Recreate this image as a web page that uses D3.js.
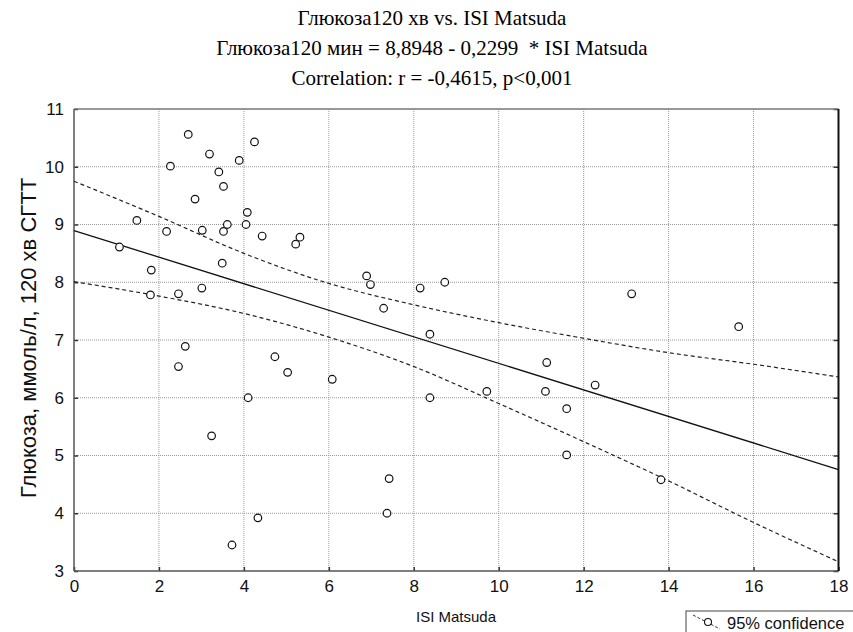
<!DOCTYPE html>
<html>
<head>
<meta charset="utf-8">
<script src="https://cdn.jsdelivr.net/npm/d3@7"></script>
<style>
  body { margin: 0; background: #fff; }
</style>
</head>
<body>
<svg id="chart" width="853" height="632"></svg>
<script>
// scatter data
var isi = [1.07, 1.48, 1.80, 1.82, 2.18, 2.27, 2.46, 2.46, 2.62, 2.69,
           2.85, 3.01, 3.02, 3.19, 3.24, 3.41, 3.49, 3.52, 3.52, 3.61,
           3.72, 3.89, 4.05, 4.08, 4.10, 4.25, 4.33, 4.43, 4.73, 5.03,
           5.22, 5.32, 6.08, 6.89, 6.98, 7.29, 7.37, 7.42, 8.15, 8.38,
           8.38, 8.73, 9.72, 11.10, 11.13, 11.60, 11.60, 12.27, 13.13, 13.82,
           15.65];
var glucose = [8.61, 9.07, 7.78, 8.21, 8.88, 10.01, 7.80, 6.54, 6.89, 10.56,
               9.44, 7.90, 8.90, 10.22, 5.34, 9.91, 8.33, 9.66, 8.88, 9.00,
               3.45, 10.11, 9.00, 9.21, 6.00, 10.43, 3.92, 8.80, 6.71, 6.44,
               8.66, 8.78, 6.32, 8.11, 7.96, 7.55, 4.00, 4.60, 7.90, 7.10,
               6.00, 8.00, 6.11, 6.11, 6.61, 5.81, 5.01, 6.22, 7.80, 4.58,
               7.23];

// regression y = a + b*x
var intercept = 8.8948;
var slope = -0.2299;

// 95% confidence band
var bandX     = [0, 2, 4, 6, 8, 10, 12, 14, 16, 18];
var bandUpper = [9.75, 9.14, 8.50, 7.98, 7.61, 7.30, 7.03, 6.78, 6.58, 6.36];
var bandLower = [8.01, 7.76, 7.46, 7.05, 6.54, 5.90, 5.24, 4.56, 3.84, 3.16];

var xTicks = [0, 2, 4, 6, 8, 10, 12, 14, 16, 18];
var yTicks = [3, 4, 5, 6, 7, 8, 9, 10, 11];

var titleLines = [
  "Глюкоза120 хв vs. ISI Matsuda",
  "Глюкоза120 мин = 8,8948 - 0,2299  * ISI Matsuda",
  "Correlation: r = -0,4615, p<0,001"
];
var xLabel = "ISI Matsuda";
var yLabel = "Глюкоза, ммоль/л, 120 хв СГТТ";
var legendText = "95% confidence";

var svg = d3.select('#chart');
var sans = "'Liberation Sans', Arial, sans-serif";
var serif = "'Liberation Serif', 'Times New Roman', serif";

var plot = {left: 74, right: 838.5, top: 109, bottom: 571};

var xScale = d3.scaleLinear().domain([0, 18]).range([plot.left, plot.right]);
var yScale = d3.scaleLinear().domain([3, 11]).range([plot.bottom, plot.top]);

// dotted grid
var grid = svg.append('g');
grid.selectAll('line.gx')
  .data(xTicks.slice(1, -1))
  .enter().append('line')
  .attr('x1', function(d){ return xScale(d) }).attr('x2', function(d){ return xScale(d) })
  .attr('y1', plot.top).attr('y2', plot.bottom)
  .attr('stroke', '#9a9a9a').attr('stroke-width', 1)
  .attr('stroke-dasharray', '1,1');
grid.selectAll('line.gy')
  .data(yTicks.slice(1, -1))
  .enter().append('line')
  .attr('y1', function(d){ return yScale(d) }).attr('y2', function(d){ return yScale(d) })
  .attr('x1', plot.left).attr('x2', plot.right)
  .attr('stroke', '#9a9a9a').attr('stroke-width', 1)
  .attr('stroke-dasharray', '1,1');

// axes
var xAxis = svg.append('g')
  .attr('transform', 'translate(0,' + plot.bottom + ')')
  .call(d3.axisBottom(xScale).tickValues(xTicks).tickSizeInner(-4).tickSizeOuter(0).tickPadding(9));
var yAxis = svg.append('g')
  .attr('transform', 'translate(' + plot.left + ',0)')
  .call(d3.axisLeft(yScale).tickValues(yTicks).tickSizeInner(-4).tickSizeOuter(0).tickPadding(10));
var yAxisRight = svg.append('g')
  .attr('transform', 'translate(' + plot.right + ',0)')
  .call(d3.axisRight(yScale).tickValues(yTicks).tickSizeInner(-5).tickSizeOuter(0).tickFormat(''));

[xAxis, yAxis, yAxisRight].forEach(function(ax){
  ax.select('.domain').remove();
  ax.selectAll('line').attr('stroke', '#333').attr('stroke-width', 1.5);
  ax.selectAll('text')
    .attr('font-family', sans)
    .attr('font-size', 17)
    .attr('fill', '#111');
});

// frame
svg.append('line').attr('x1', plot.left).attr('x2', plot.right).attr('y1', plot.top).attr('y2', plot.top)
  .attr('stroke', '#777').attr('stroke-width', 1.5);
svg.append('line').attr('x1', plot.left).attr('x2', plot.left).attr('y1', plot.top).attr('y2', plot.bottom)
  .attr('stroke', '#555').attr('stroke-width', 1.5);
svg.append('line').attr('x1', plot.left).attr('x2', plot.right).attr('y1', plot.bottom).attr('y2', plot.bottom)
  .attr('stroke', '#555').attr('stroke-width', 1.5);
svg.append('line').attr('x1', plot.right).attr('x2', plot.right).attr('y1', plot.top).attr('y2', plot.bottom)
  .attr('stroke', '#111').attr('stroke-width', 2);

// confidence bands
var bandLine = d3.line()
  .x(function(d){ return xScale(d[0]) })
  .y(function(d){ return yScale(d[1]) })
  .curve(d3.curveMonotoneX);
[bandUpper, bandLower].forEach(function(band){
  svg.append('path')
    .datum(bandX.map(function(x, i){ return [x, band[i]] }))
    .attr('d', bandLine)
    .attr('fill', 'none')
    .attr('stroke', '#222')
    .attr('stroke-width', 1.2)
    .attr('stroke-dasharray', '4,3');
});

// regression line
svg.append('line')
  .attr('x1', xScale(0)).attr('y1', yScale(intercept))
  .attr('x2', xScale(18)).attr('y2', yScale(intercept + slope * 18))
  .attr('stroke', '#111').attr('stroke-width', 1.3);

// points
svg.append('g').selectAll('circle')
  .data(isi)
  .enter().append('circle')
  .attr('cx', function(d){ return xScale(d) })
  .attr('cy', function(d, i){ return yScale(glucose[i]) })
  .attr('r', 3.8)
  .attr('fill', '#fff')
  .attr('stroke', '#111')
  .attr('stroke-width', 1.2);

// titles
svg.append('g').selectAll('text')
  .data(titleLines)
  .enter().append('text')
  .attr('x', 432)
  .attr('y', function(d, i){ return 25 + i * 30 })
  .attr('text-anchor', 'middle')
  .attr('font-family', serif)
  .attr('font-size', 21)
  .attr('fill', '#000')
  .style('white-space', 'pre')
  .text(function(d){ return d });

// axis titles
svg.append('text')
  .attr('x', 456).attr('y', 622)
  .attr('text-anchor', 'middle')
  .attr('font-family', sans).attr('font-size', 15)
  .attr('fill', '#111')
  .text(xLabel);

svg.append('text')
  .attr('transform', 'translate(36,338) rotate(-90)')
  .attr('text-anchor', 'middle')
  .attr('font-family', sans).attr('font-size', 22)
  .attr('fill', '#111')
  .text(yLabel);

// legend (box runs off the bottom/right edge like the original)
var legend = svg.append('g').attr('transform', 'translate(686,611)');
legend.append('rect')
  .attr('x', 0).attr('y', 0).attr('width', 175).attr('height', 30)
  .attr('fill', '#fff').attr('stroke', '#444').attr('stroke-width', 1);
legend.append('line')
  .attr('x1', 7).attr('y1', 4).attr('x2', 34).attr('y2', 18)
  .attr('stroke', '#333').attr('stroke-width', 1).attr('stroke-dasharray', '3,2');
legend.append('circle')
  .attr('cx', 22).attr('cy', 11).attr('r', 3.5)
  .attr('fill', '#fff').attr('stroke', '#111').attr('stroke-width', 1.1);
legend.append('text')
  .attr('x', 41).attr('y', 18)
  .attr('font-family', sans).attr('font-size', 16.5)
  .attr('fill', '#111')
  .text(legendText);
</script>
</body>
</html>
